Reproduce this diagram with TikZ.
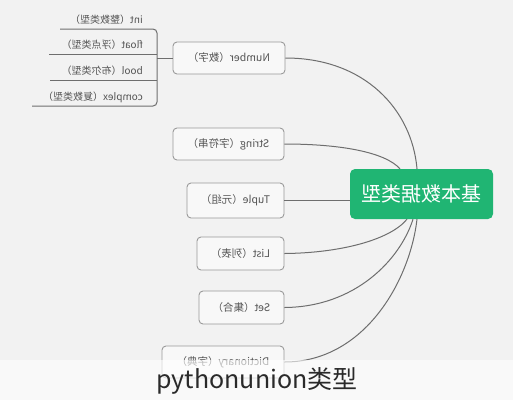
\documentclass[tikz,border=0pt]{standalone}
\usepackage{graphicx}
\usepackage{fontspec}
\newfontfamily\cjk{Noto Sans CJK SC}
\definecolor{bggray}{HTML}{F2F2F2}
\definecolor{boxfill}{HTML}{F8F8F8}
\definecolor{boxline}{HTML}{9A9A9A}
\definecolor{txtgray}{HTML}{555555}
\definecolor{linegray}{HTML}{6E6E6E}
\definecolor{mmgreen}{HTML}{20B573}
\definecolor{captxt}{HTML}{2A2A2A}
\tikzset{
  typebox/.style={draw=boxline, line width=0.9pt, fill=boxfill, rounded corners=4pt,
    minimum height=32pt, inner sep=0pt, font=\cjk\fontsize{10.5}{12}\selectfont, text=txtgray},
  leaflabel/.style={anchor=east, inner sep=0pt, font=\cjk\fontsize{10}{12}\selectfont, text=txtgray},
  link/.style={draw=linegray, line width=1pt},
  rootbox/.style={fill=mmgreen, rounded corners=5pt, minimum width=143pt, minimum height=50pt,
    inner sep=0pt, text=white, font=\cjk\fontsize{20}{22}\selectfont}
}
\begin{document}
\begin{tikzpicture}[x=1pt,y=-1pt]
\useasboundingbox[fill=bggray] (0,0) rectangle (513,400);

% root
\node[rootbox] (root) at (421.5,194) {\reflectbox{基本数据类型}};

% type boxes
\node[typebox, minimum width=112pt] (num) at (229,58) {\reflectbox{Number（数字）}};
\node[typebox, minimum width=111pt] (str) at (228.5,144) {\reflectbox{String（字符串）}};
\node[typebox, minimum width=97pt, minimum height=35pt] (tup) at (235.5,200.5) {\reflectbox{Tuple（元组）}};
\node[typebox, minimum width=87pt, minimum height=33pt] (lst) at (240.5,253.5) {\reflectbox{List（列表）}};
\node[typebox, minimum width=85pt, minimum height=33pt] (set) at (241.5,307.5) {\reflectbox{Set（集合）}};
\node[typebox, minimum width=122pt] (dic) at (223,362) {\reflectbox{Dictionary（字典）}};

% number sub labels
\node[leaflabel] (lint) at (143,20) {\reflectbox{int（整数类型）}};
\node[leaflabel] (lflt) at (143,45) {\reflectbox{float（浮点类型）}};
\node[leaflabel] (lbool) at (143,71) {\reflectbox{bool（布尔类型）}};
\node[leaflabel] (lcpx) at (143,97) {\reflectbox{complex（复数类型）}};

\coordinate (intL) at (60,29);
\coordinate (fltL) at (49,54);
\coordinate (boolL) at (50,80);
\coordinate (cpxL) at (32,106);
\coordinate (brTop) at (157,29);
\coordinate (brBot) at (157,106);
\coordinate (brFlt) at (157,54);
\coordinate (brBool) at (157,80);
\coordinate (brMid) at (157,58);

\draw[link, rounded corners=4pt] (intL) -- (brTop) -- (brBot) -- (cpxL);
\draw[link] (fltL) -- (brFlt);
\draw[link] (boolL) -- (brBool);
\draw[link] (brMid) -- (num.west);

% connectors to root
\draw[link] (num.east) .. controls (365,58) and (412,110) .. ([xshift=-4.5pt]root.north);
\draw[link] (str.east) .. controls (340,144) and (385,152) .. ([xshift=-21.5pt]root.north);
\draw[link] (tup.east) -- (root.west |- tup.east);
\draw[link] (lst.east) .. controls (340,253) and (390,240) .. ([xshift=-14.5pt]root.south);
\draw[link] (set.east) .. controls (355,307) and (400,260) .. ([xshift=-8.5pt]root.south);
\draw[link] (dic.east) .. controls (365,362) and (410,280) .. ([xshift=-4.5pt]root.south);

% bottom caption band
\fill[white, opacity=0.6] (0,360) rectangle (513,400);
\node[inner sep=0pt, text=captxt, font=\cjk\fontsize{25}{28}\selectfont] (cap) at (257,381) {pythonunion类型};
\end{tikzpicture}
\end{document}
